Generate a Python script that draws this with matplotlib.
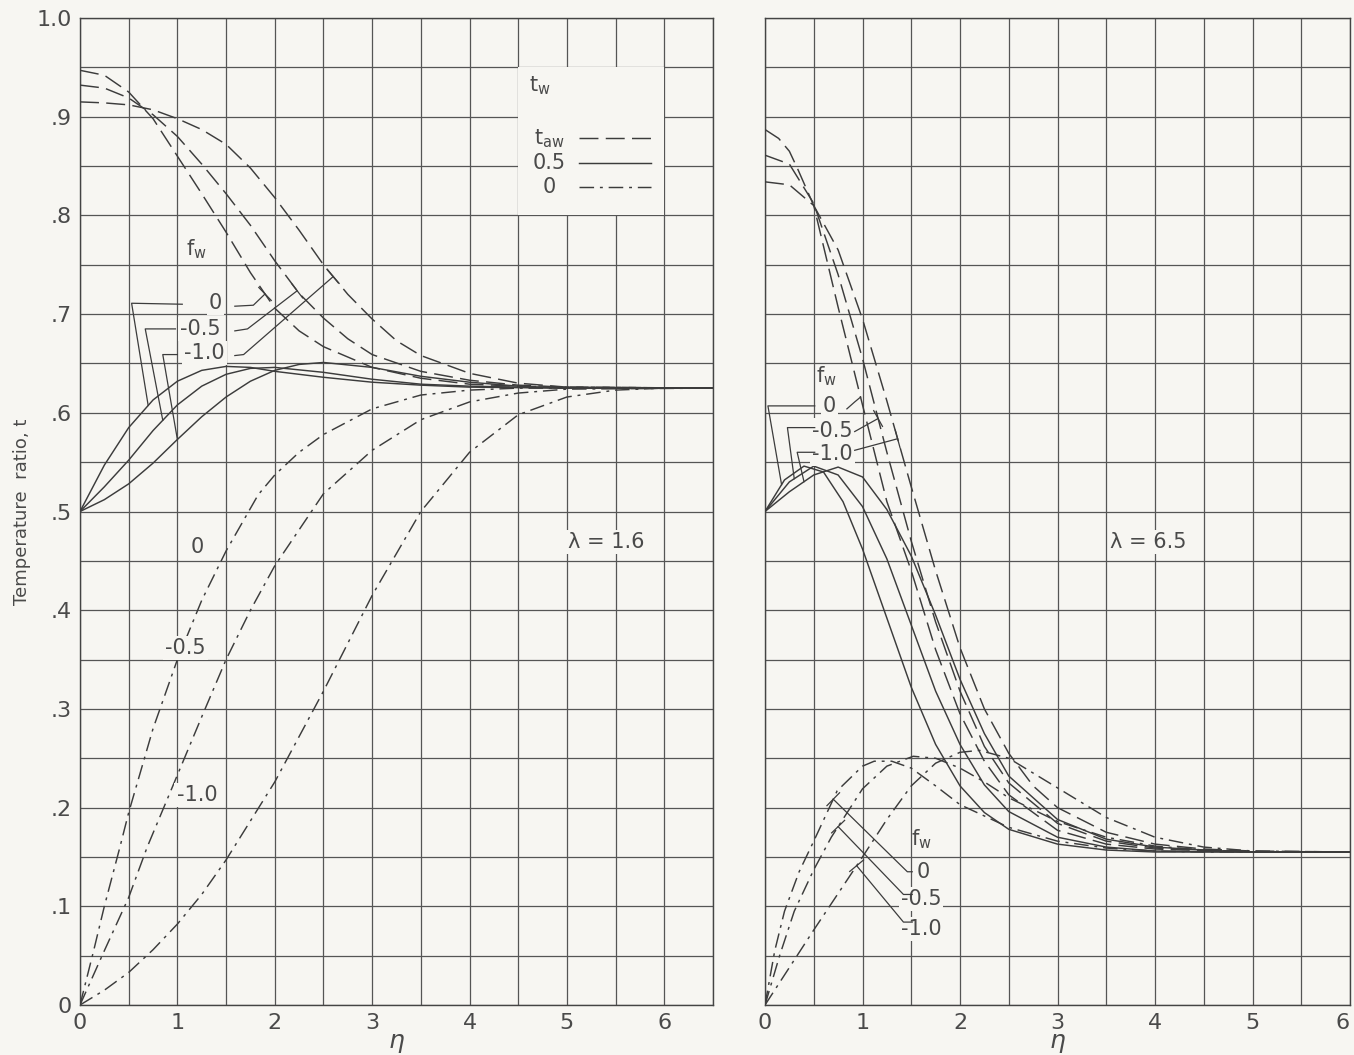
import numpy as np
import matplotlib
matplotlib.use("Agg")
import matplotlib.pyplot as plt
from matplotlib.patches import Rectangle

# ---------------- data ----------------
# Left panel, lambda = 1.6 ; t_w = t_aw (long dashed)
L_taw_f0_eta = [0, 0.25, 0.5, 0.75, 1.0, 1.25, 1.5, 1.75, 2.0, 2.25, 2.5, 3.0, 3.5, 4.0, 4.5, 5.0, 6.5]
L_taw_f0_t = [0.947, 0.942, 0.925, 0.898, 0.860, 0.822, 0.783, 0.742, 0.706, 0.683, 0.667, 0.646, 0.635, 0.629, 0.627, 0.626, 0.625]
L_taw_f05_eta = [0, 0.25, 0.5, 0.75, 1.0, 1.25, 1.5, 1.75, 2.0, 2.25, 2.5, 2.75, 3.0, 3.5, 4.0, 4.5, 5.0, 6.5]
L_taw_f05_t = [0.932, 0.929, 0.919, 0.902, 0.880, 0.852, 0.822, 0.790, 0.754, 0.721, 0.696, 0.675, 0.659, 0.642, 0.633, 0.628, 0.626, 0.625]
L_taw_f10_eta = [0, 0.25, 0.5, 0.75, 1.0, 1.25, 1.5, 1.75, 2.0, 2.25, 2.5, 2.75, 3.0, 3.25, 3.5, 4.0, 4.5, 5.0, 6.5]
L_taw_f10_t = [0.915, 0.914, 0.912, 0.907, 0.898, 0.887, 0.872, 0.848, 0.818, 0.785, 0.750, 0.720, 0.695, 0.673, 0.658, 0.640, 0.630, 0.626, 0.625]

# t_w = 0.5 (solid)
L_h_f0_eta = [0, 0.25, 0.5, 0.75, 1.0, 1.25, 1.5, 1.75, 2.0, 2.5, 3.0, 3.5, 4.0, 5.0, 6.5]
L_h_f0_t = [0.5, 0.547, 0.585, 0.613, 0.632, 0.643, 0.647, 0.646, 0.642, 0.636, 0.631, 0.628, 0.626, 0.625, 0.625]
L_h_f05_eta = [0, 0.25, 0.5, 0.75, 1.0, 1.25, 1.5, 1.75, 2.0, 2.5, 3.0, 3.5, 4.0, 5.0, 6.5]
L_h_f05_t = [0.5, 0.525, 0.552, 0.582, 0.608, 0.627, 0.639, 0.645, 0.646, 0.641, 0.634, 0.629, 0.627, 0.625, 0.625]
L_h_f10_eta = [0, 0.25, 0.5, 0.75, 1.0, 1.25, 1.5, 1.75, 2.0, 2.25, 2.5, 3.0, 3.5, 4.0, 4.5, 5.0, 6.5]
L_h_f10_t = [0.5, 0.512, 0.528, 0.549, 0.573, 0.596, 0.616, 0.632, 0.643, 0.649, 0.651, 0.646, 0.637, 0.631, 0.627, 0.625, 0.625]

# t_w = 0 (dash-dot)
L_z_f0_eta = [0, 0.14, 0.25, 0.41, 0.5, 0.75, 1.0, 1.25, 1.5, 1.83, 2.0, 2.25, 2.5, 3.0, 3.5, 4.0, 4.5, 5.0, 6.5]
L_z_f0_t = [0, 0.055, 0.1, 0.16, 0.195, 0.28, 0.35, 0.41, 0.46, 0.517, 0.537, 0.56, 0.578, 0.604, 0.618, 0.623, 0.625, 0.625, 0.625]
L_z_f05_eta = [0, 0.25, 0.5, 0.69, 1.0, 1.25, 1.5, 1.75, 2.0, 2.5, 3.0, 3.5, 4.0, 4.5, 5.0, 6.5]
L_z_f05_t = [0, 0.055, 0.109, 0.16, 0.233, 0.292, 0.35, 0.4, 0.445, 0.518, 0.562, 0.593, 0.611, 0.62, 0.624, 0.625]
L_z_f10_eta = [0, 0.25, 0.5, 0.75, 1.0, 1.25, 1.5, 2.0, 2.5, 3.0, 3.5, 4.0, 4.5, 5.0, 5.5, 6.0, 6.5]
L_z_f10_t = [0, 0.015, 0.033, 0.056, 0.082, 0.112, 0.147, 0.226, 0.318, 0.415, 0.5, 0.56, 0.598, 0.616, 0.623, 0.625, 0.625]

# Right panel, lambda = 6.5 ; t_w = t_aw
R_taw_f0_eta = [0, 0.14, 0.25, 0.34, 0.5, 0.75, 1.0, 1.25, 1.5, 1.75, 2.0, 2.25, 2.5, 3.0, 3.5, 4.0, 5.0, 6.0]
R_taw_f0_t = [0.887, 0.878, 0.865, 0.846, 0.81, 0.707, 0.608, 0.51, 0.44, 0.36, 0.295, 0.247, 0.213, 0.177, 0.163, 0.158, 0.155, 0.155]
R_taw_f05_eta = [0, 0.25, 0.5, 0.75, 1.0, 1.25, 1.5, 1.75, 2.0, 2.25, 2.5, 3.0, 3.5, 4.0, 5.0, 6.0]
R_taw_f05_t = [0.861, 0.852, 0.812, 0.74, 0.655, 0.56, 0.47, 0.388, 0.318, 0.262, 0.225, 0.184, 0.166, 0.159, 0.155, 0.155]
R_taw_f10_eta = [0, 0.25, 0.5, 0.75, 1.0, 1.25, 1.5, 1.75, 2.0, 2.25, 2.5, 2.75, 3.0, 3.5, 4.0, 4.5, 5.0, 6.0]
R_taw_f10_t = [0.834, 0.831, 0.81, 0.765, 0.695, 0.612, 0.525, 0.44, 0.362, 0.3, 0.255, 0.222, 0.2, 0.175, 0.163, 0.158, 0.156, 0.155]

# t_w = 0.5
R_h_f0_eta = [0, 0.2, 0.4, 0.6, 0.8, 1.0, 1.25, 1.5, 1.75, 2.0, 2.25, 2.5, 3.0, 3.5, 4.0, 5.0, 6.0]
R_h_f0_t = [0.5, 0.532, 0.546, 0.54, 0.51, 0.462, 0.392, 0.322, 0.264, 0.222, 0.195, 0.178, 0.163, 0.157, 0.155, 0.155, 0.155]
R_h_f05_eta = [0, 0.25, 0.5, 0.75, 1.0, 1.25, 1.5, 1.75, 2.0, 2.25, 2.5, 3.0, 3.5, 4.0, 5.0, 6.0]
R_h_f05_t = [0.5, 0.53, 0.546, 0.537, 0.505, 0.452, 0.385, 0.318, 0.264, 0.223, 0.196, 0.17, 0.16, 0.156, 0.155, 0.155]
R_h_f10_eta = [0, 0.25, 0.5, 0.75, 1.0, 1.25, 1.5, 1.75, 2.0, 2.25, 2.5, 3.0, 3.5, 4.0, 4.5, 5.0, 6.0]
R_h_f10_t = [0.5, 0.52, 0.537, 0.545, 0.535, 0.502, 0.455, 0.395, 0.33, 0.275, 0.232, 0.188, 0.168, 0.16, 0.157, 0.155, 0.155]

# t_w = 0
R_z_f0_eta = [0, 0.1, 0.2, 0.35, 0.5, 0.74, 1.0, 1.12, 1.3, 1.5, 1.75, 2.0, 2.5, 3.0, 3.5, 4.0, 4.5, 6.0]
R_z_f0_t = [0, 0.055, 0.095, 0.135, 0.166, 0.217, 0.242, 0.247, 0.247, 0.24, 0.222, 0.203, 0.18, 0.166, 0.159, 0.156, 0.155, 0.155]
R_z_f05_eta = [0, 0.15, 0.3, 0.5, 0.68, 1.0, 1.25, 1.52, 1.75, 2.0, 2.25, 2.5, 3.0, 3.5, 4.0, 4.5, 5.0, 6.0]
R_z_f05_t = [0, 0.05, 0.095, 0.137, 0.17, 0.219, 0.242, 0.252, 0.25, 0.24, 0.226, 0.21, 0.186, 0.17, 0.161, 0.157, 0.155, 0.155]
R_z_f10_eta = [0, 0.25, 0.5, 0.75, 1.0, 1.25, 1.5, 1.75, 2.0, 2.2, 2.5, 3.0, 3.5, 4.0, 4.5, 5.0, 6.0]
R_z_f10_t = [0, 0.038, 0.076, 0.113, 0.15, 0.188, 0.222, 0.245, 0.256, 0.258, 0.25, 0.22, 0.19, 0.17, 0.16, 0.156, 0.155]

fw_labels = ["0", "-0.5", "-1.0"]
tw_labels = ["t$_{\\mathregular{aw}}$", "0.5", "0"]
y_tick_labels = ["0", ".1", ".2", ".3", ".4", ".5", ".6", ".7", ".8", ".9", "1.0"]
x_tick_labels = ["0", "1", "2", "3", "4", "5", "6"]

# ---------------- style ----------------
BG = "#f7f6f2"
INK = "#3c3c3c"
GRID = "#555555"
TXT = "#4a4a4a"
LW = 1.05
STY_TAW = (0, (13, 5))
STY_HALF = "-"
STY_ZERO = (0, (10, 4, 2, 4))
FS = 15

plt.rcParams["font.family"] = ["DejaVu Sans"]

fig = plt.figure(figsize=(13.54, 10.55), dpi=100, facecolor=BG)
axL = fig.add_axes([80 / 1354, 50 / 1055, 633 / 1354, 987 / 1055], facecolor=BG)
axR = fig.add_axes([765 / 1354, 50 / 1055, 585 / 1354, 987 / 1055], facecolor=BG)


def setup(ax, xmax, show_y):
    ax.set_xlim(0, xmax)
    ax.set_ylim(0, 1.0)
    n = int(xmax) + 1
    ax.set_xticks(np.arange(0, 7, 1)[:n])
    ax.set_xticklabels(x_tick_labels[:n])
    ax.set_xticks(np.arange(0, xmax + 0.01, 0.5), minor=True)
    ax.set_yticks(np.linspace(0, 1, 11))
    ax.set_yticks(np.arange(0, 1.001, 0.05), minor=True)
    if show_y:
        ax.set_yticklabels(y_tick_labels)
    else:
        ax.set_yticklabels([])
    ax.tick_params(which="both", length=0, labelsize=16, colors=TXT, pad=6)
    ax.set_axisbelow(True)
    ax.grid(which="both", color=GRID, lw=0.9)
    for s in ax.spines.values():
        s.set_color("#444444")
        s.set_linewidth(1.0)
    ax.set_xlabel("$\\eta$", fontsize=18, color=TXT, labelpad=-2)


setup(axL, 6.5, True)
setup(axR, 6.0, False)
axR.get_xticklabels()[-1].set_horizontalalignment("right")
axL.set_ylabel("Temperature  ratio, t", fontsize=13, color=TXT, labelpad=4)

# ---------------- curves ----------------
curves_L = [
    (L_taw_f0_eta, L_taw_f0_t, STY_TAW), (L_taw_f05_eta, L_taw_f05_t, STY_TAW), (L_taw_f10_eta, L_taw_f10_t, STY_TAW),
    (L_h_f0_eta, L_h_f0_t, STY_HALF), (L_h_f05_eta, L_h_f05_t, STY_HALF), (L_h_f10_eta, L_h_f10_t, STY_HALF),
    (L_z_f0_eta, L_z_f0_t, STY_ZERO), (L_z_f05_eta, L_z_f05_t, STY_ZERO), (L_z_f10_eta, L_z_f10_t, STY_ZERO),
]
curves_R = [
    (R_taw_f0_eta, R_taw_f0_t, STY_TAW), (R_taw_f05_eta, R_taw_f05_t, STY_TAW), (R_taw_f10_eta, R_taw_f10_t, STY_TAW),
    (R_h_f0_eta, R_h_f0_t, STY_HALF), (R_h_f05_eta, R_h_f05_t, STY_HALF), (R_h_f10_eta, R_h_f10_t, STY_HALF),
    (R_z_f0_eta, R_z_f0_t, STY_ZERO), (R_z_f05_eta, R_z_f05_t, STY_ZERO), (R_z_f10_eta, R_z_f10_t, STY_ZERO),
]
for ax, cs in ((axL, curves_L), (axR, curves_R)):
    for e, t, st in cs:
        ax.plot(e, t, color=INK, lw=LW, ls=st, zorder=3)

# ---------------- annotations ----------------
lbl_box = dict(facecolor=BG, edgecolor="none", pad=1.5)


def txt(ax, x, y, s, ha="center", size=FS, box=True):
    ax.text(x, y, s, ha=ha, va="center", fontsize=size, color=TXT,
            bbox=lbl_box if box else None, zorder=4)


def leader(ax, pts, tick_at_end=True, tick_len=9):
    xs = [p[0] for p in pts]
    ys = [p[1] for p in pts]
    ax.plot(xs, ys, color=INK, lw=0.9, zorder=5)
    if tick_at_end is None:
        return
    i0, i1 = (-2, -1) if tick_at_end else (1, 0)
    p0 = ax.transData.transform(pts[i0])
    p1 = ax.transData.transform(pts[i1])
    d = p1 - p0
    d = d / np.hypot(*d)
    nrm = np.array([-d[1], d[0]]) * tick_len
    a = ax.transData.inverted().transform(p1 + nrm)
    b = ax.transData.inverted().transform(p1 - nrm)
    ax.plot([a[0], b[0]], [a[1], b[1]], color=INK, lw=0.9, zorder=5)


def on(e, t, x):
    return (x, float(np.interp(x, e, t)))


# Left legend box
axL.add_patch(Rectangle((4.5, 0.80), 1.5, 0.15, facecolor=BG, edgecolor="none", zorder=1))
txt(axL, 4.72, 0.931, "t$_{\\mathregular{w}}$", box=False)
for ty, lab, st in zip([0.878, 0.853, 0.829], tw_labels, [STY_TAW, STY_HALF, STY_ZERO]):
    txt(axL, 4.82, ty, lab, box=False)
    axL.plot([5.12, 5.86], [ty, ty], color=INK, lw=LW, ls=st, zorder=3)

# Left upper fw labels
txt(axL, 1.2, 0.766, "f$_{\\mathregular{w}}$", box=False)
txt(axL, 1.39, 0.711, fw_labels[0])
txt(axL, 1.24, 0.685, fw_labels[1])
txt(axL, 1.28, 0.661, fw_labels[2])
leader(axL, [(1.05, 0.710), (0.53, 0.711), on(L_h_f0_eta, L_h_f0_t, 0.70)], tick_at_end=None)
leader(axL, [(0.98, 0.685), (0.67, 0.685), on(L_h_f05_eta, L_h_f05_t, 0.85)], tick_at_end=None)
leader(axL, [(1.0, 0.659), (0.85, 0.659), on(L_h_f10_eta, L_h_f10_t, 1.0)], tick_at_end=None)
leader(axL, [(1.59, 0.708), (1.78, 0.709), on(L_taw_f0_eta, L_taw_f0_t, 1.9)])
leader(axL, [(1.59, 0.683), (1.72, 0.685), on(L_taw_f05_eta, L_taw_f05_t, 2.23)])
leader(axL, [(1.59, 0.658), (1.68, 0.659), on(L_taw_f10_eta, L_taw_f10_t, 2.6)])

# Left lower fw labels
txt(axL, 1.2, 0.464, fw_labels[0])
txt(axL, 1.08, 0.362, fw_labels[1])
txt(axL, 1.2, 0.213, fw_labels[2])
txt(axL, 5.4, 0.469, "λ = 1.6")

# Right upper fw labels
txt(axR, 0.63, 0.637, "f$_{\\mathregular{w}}$", box=False)
txt(axR, 0.66, 0.607, fw_labels[0])
txt(axR, 0.69, 0.582, fw_labels[1])
txt(axR, 0.69, 0.558, fw_labels[2])
leader(axR, [(0.51, 0.607), (0.03, 0.607), on(R_h_f0_eta, R_h_f0_t, 0.17)], tick_at_end=None)
leader(axR, [(0.51, 0.585), (0.23, 0.585), on(R_h_f05_eta, R_h_f05_t, 0.30)], tick_at_end=None)
leader(axR, [(0.51, 0.560), (0.33, 0.560), on(R_h_f10_eta, R_h_f10_t, 0.40)], tick_at_end=None)
leader(axR, [(0.84, 0.604), (0.92, 0.611), on(R_taw_f0_eta, R_taw_f0_t, 0.98)], tick_at_end=None)
leader(axR, [(0.92, 0.581), on(R_taw_f05_eta, R_taw_f05_t, 1.16)])
leader(axR, [(0.92, 0.562), on(R_taw_f10_eta, R_taw_f10_t, 1.36)])
txt(axR, 3.93, 0.469, "λ = 6.5")

# Right lower fw labels
txt(axR, 1.6, 0.168, "f$_{\\mathregular{w}}$", box=False)
txt(axR, 1.62, 0.135, fw_labels[0])
txt(axR, 1.6, 0.107, fw_labels[1])
txt(axR, 1.6, 0.077, fw_labels[2])
leader(axR, [on(R_z_f0_eta, R_z_f0_t, 0.70), (1.46, 0.135), (1.51, 0.135)], tick_at_end=False)
leader(axR, [on(R_z_f05_eta, R_z_f05_t, 0.75), (1.42, 0.112), (1.51, 0.112)], tick_at_end=False)
leader(axR, [on(R_z_f10_eta, R_z_f10_t, 0.94), (1.42, 0.084), (1.51, 0.084)], tick_at_end=False)

fig.savefig("out.png", dpi=100, facecolor=BG)
